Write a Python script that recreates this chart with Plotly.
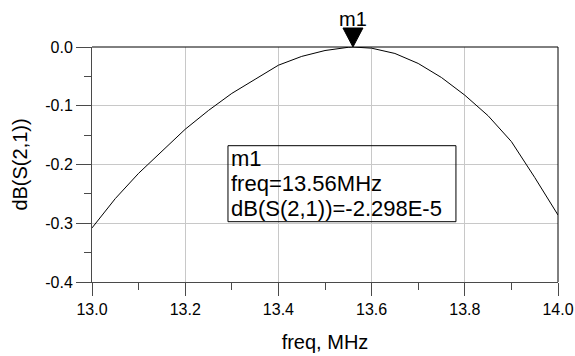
import plotly.graph_objects as go

freq_mhz = [13.00, 13.05, 13.10, 13.15, 13.20, 13.25, 13.30, 13.35, 13.40, 13.45,
            13.50, 13.55, 13.56, 13.60, 13.65, 13.70, 13.75, 13.80, 13.85, 13.90,
            13.95, 14.00]
s21_db = [-0.308, -0.258, -0.215, -0.178, -0.140, -0.108, -0.079, -0.055, -0.031, -0.016,
          -0.006, -0.0005, -0.00002298, -0.002, -0.011, -0.028, -0.052, -0.082, -0.117, -0.161,
          -0.222, -0.286]

marker_name = "m1"
marker_freq = 13.56
marker_val = -2.298e-5

x_ticks = [13.0, 13.2, 13.4, 13.6, 13.8, 14.0]
x_ticklabels = ["13.0", "13.2", "13.4", "13.6", "13.8", "14.0"]
y_ticks = [-0.4, -0.3, -0.2, -0.1, 0.0]
y_ticklabels = ["-0.4", "-0.3", "-0.2", "-0.1", "0.0"]

FONT = "Liberation Sans, Arial, sans-serif"
AXC = "#4a4a4a"

fig = go.Figure()
fig.add_trace(go.Scatter(x=freq_mhz, y=s21_db, mode="lines",
                         line=dict(color="black", width=1), showlegend=False,
                         hoverinfo="skip"))

fig.update_layout(
    width=575, height=356,
    margin=dict(l=92, r=17, t=47, b=74),
    paper_bgcolor="white", plot_bgcolor="white",
    font=dict(family=FONT, color="black"),
    showlegend=False,
)
fig.update_xaxes(
    range=[13.0, 14.0], tickmode="array", tickvals=x_ticks, ticktext=x_ticklabels,
    ticks="outside", ticklen=13, tickwidth=1, tickcolor=AXC,
    tickfont=dict(size=16, family=FONT, color="black"),
    showgrid=True, gridcolor="#c8c8c8", gridwidth=1,
    showline=True, linecolor=AXC, linewidth=1, zeroline=False, automargin=False,
    minor=dict(tickvals=[13.1, 13.3, 13.5, 13.7, 13.9], ticks="outside", ticklen=7,
               tickcolor=AXC, showgrid=False),
    title=dict(text="freq, MHz", font=dict(size=20, family=FONT, color="black"), standoff=17),
)
fig.update_yaxes(
    range=[-0.4, 0.0], tickmode="array", tickvals=y_ticks, ticktext=y_ticklabels,
    ticks="outside", ticklen=15, tickwidth=1, tickcolor=AXC,
    tickfont=dict(size=16, family=FONT, color="black"),
    showgrid=True, gridcolor="#c8c8c8", gridwidth=1,
    showline=True, linecolor=AXC, linewidth=1, zeroline=False, automargin=False,
    minor=dict(tickvals=[-0.35, -0.25, -0.15, -0.05], ticks="outside", ticklen=7,
               tickcolor=AXC, showgrid=False),
    title=dict(text="dB(S(2,1))", font=dict(size=20, family=FONT, color="black"), standoff=12),
)

# top / right border
fig.add_shape(type="line", xref="paper", yref="paper", x0=0, x1=1, y0=1, y1=1,
              line=dict(color="black", width=1))
fig.add_shape(type="line", xref="paper", yref="paper", x0=1, x1=1, y0=0, y1=1,
              line=dict(color="black", width=1))

# marker triangle (apex on the marker point at the top of the plot)
fig.add_shape(type="path", xref="x", yref="paper", xsizemode="pixel", ysizemode="pixel",
              xanchor=marker_freq, yanchor=1,
              path="M -10,19 L 10,19 L 0,0 Z",
              fillcolor="black", line=dict(color="black", width=1))
fig.add_annotation(x=marker_freq, y=1, xref="x", yref="paper", text=marker_name,
                   showarrow=False, yanchor="bottom", yshift=15,
                   font=dict(size=20, family=FONT, color="black"))

# readout box
fig.add_shape(type="rect", xref="paper", yref="paper", x0=0.2918, x1=0.781, y0=0.2566, y1=0.580,
              line=dict(color="black", width=1), fillcolor="rgba(255,255,255,0)")
lines = [marker_name, f"freq={marker_freq:.2f}MHz", f"dB(S(2,1))={marker_val:.3E}".replace("E-05", "E-5")]
centers = [158.2, 183.2, 208.2]
for txt, yc in zip(lines, centers):
    fig.add_annotation(x=(230 - 92) / 466, y=(282 - yc) / 235, xref="paper", yref="paper",
                       text=txt, showarrow=False, xanchor="left", yanchor="middle",
                       borderpad=0,
                       font=dict(size=22, family=FONT, color="black"))

fig.write_html("out.html")
